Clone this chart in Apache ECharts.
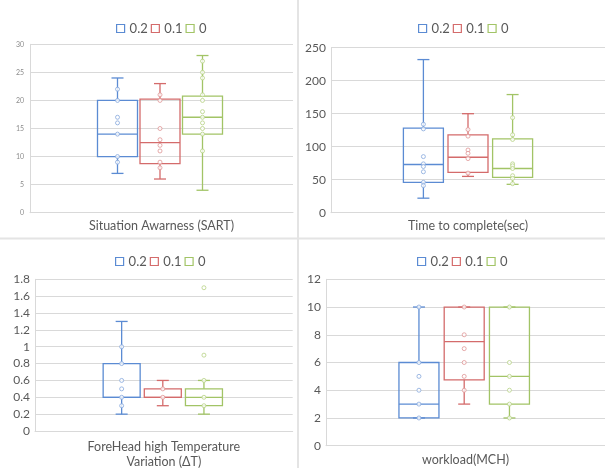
<!DOCTYPE html>
<html><head><meta charset="utf-8">
<script src="https://cdn.jsdelivr.net/npm/echarts@6/dist/echarts.min.js"></script>
<style>html,body{margin:0;padding:0;background:#fff}#c{width:605px;height:468px}</style>
</head><body><div id="c"></div>
<script>
// ---------- data ----------
const groups = ['0.2', '0.1', '0'];

// Situation Awareness (SART)
const sartTicks = [0, 5, 10, 15, 20, 25, 30];
const sartMin = [7, 6, 4];
const sartQ1 = [10, 8.75, 14];
const sartMedian = [14, 12.5, 17];
const sartQ3 = [20, 20.25, 20.75];
const sartMax = [24, 23, 28];
const sartPoints02 = [22, 20, 17, 16, 14, 10, 9];
const sartPoints01 = [21, 20, 15, 13, 12, 11, 9, 8];
const sartPoints0 = [27, 25, 24, 21, 20, 18, 17, 16, 15, 14, 11];

// Time to complete (sec)
const timeTicks = [0, 50, 100, 150, 200, 250];
const timeMin = [22, 55, 43];
const timeQ1 = [46, 61, 53.5];
const timeMedian = [73, 84, 67];
const timeQ3 = [128, 118, 112];
const timeMax = [232, 150, 179];
const timePoints02 = [134, 127, 85, 74, 70, 62, 46, 41];
const timePoints01 = [126, 116, 95, 90, 82, 60];
const timePoints0 = [144, 118, 111, 74, 71, 67, 56, 52, 44];

// ForeHead high Temperature Variation (ΔT)
const tempTicks = [0, 0.2, 0.4, 0.6, 0.8, 1, 1.2, 1.4, 1.6, 1.8];
const tempMin = [0.2, 0.3, 0.2];
const tempQ1 = [0.4, 0.4, 0.3];
const tempMedian = [0.4, 0.4, 0.4];
const tempQ3 = [0.8, 0.5, 0.5];
const tempMax = [1.3, 0.6, 0.6];
const tempPoints02 = [1.0, 0.8, 0.6, 0.5, 0.4, 0.3];
const tempPoints01 = [0.5, 0.4];
const tempPoints0 = [1.7, 0.9, 0.6, 0.4, 0.3];

// workload (MCH)
const workTicks = [0, 2, 4, 6, 8, 10, 12];
const workMin = [2, 3, 2];
const workQ1 = [2, 4.75, 3];
const workMedian = [3, 7.5, 5];
const workQ3 = [6, 10, 10];
const workMax = [10, 10, 10];
const workPoints02 = [10, 6, 5, 4, 3, 2];
const workPoints01 = [10, 8, 7, 6, 5, 4];
const workPoints0 = [10, 6, 5, 4, 3, 2];

// ---------- style / layout ----------
const FONT = 'Lato, "Open Sans", sans-serif';
const TEXT = '#595959';
const LINE = '#d9d9d9';
const COLORS = ['#5b8bd3', '#d46b6b', '#a2c466'];
const POINT_COLORS = ['#87a9dd', '#e09696', '#b7d285'];
const CAP = 12;

const panels = [
  { title: 'Situation Awarness (SART)', ticks: sartTicks, min: sartMin, q1: sartQ1, med: sartMedian, q3: sartQ3, max: sartMax,
    pts: [sartPoints02, sartPoints01, sartPoints0],
    lay: { left: 30, right: 293, top: 44.3, bottom: 212.7, center: 160, spacing: 42.5, boxW: 40, labelSize: 7, labelColor: '#8c8c8c', labelMargin: 6, nameGap: 6, legendLeft: 111, legendTop: 17 } },
  { title: 'Time to complete(sec)', ticks: timeTicks, min: timeMin, q1: timeQ1, med: timeMedian, q3: timeQ3, max: timeMax,
    pts: [timePoints02, timePoints01, timePoints0],
    lay: { left: 331, right: 605, top: 47.7, bottom: 212.7, center: 468, spacing: 44.6, boxW: 40, labelSize: 12, labelColor: TEXT, labelMargin: 5, nameGap: 6, legendLeft: 413, legendTop: 17 } },
  { title: 'ForeHead high Temperature\nVariation (ΔT)', ticks: tempTicks, min: tempMin, q1: tempQ1, med: tempMedian, q3: tempQ3, max: tempMax,
    pts: [tempPoints02, tempPoints01, tempPoints0],
    lay: { left: 35, right: 292.7, top: 279.3, bottom: 431, center: 162.8, spacing: 41.15, boxW: 37, labelSize: 12, labelColor: TEXT, labelMargin: 5, nameGap: 8, legendLeft: 110, legendTop: 250 } },
  { title: 'workload(MCH)', ticks: workTicks, min: workMin, q1: workQ1, med: workMedian, q3: workQ3, max: workMax,
    pts: [workPoints02, workPoints01, workPoints0],
    lay: { left: 326, right: 605, top: 279.3, bottom: 445.7, center: 464.2, spacing: 45.25, boxW: 40, labelSize: 12, labelColor: TEXT, labelMargin: 5, nameGap: 7, legendLeft: 412, legendTop: 250 } }
];

function makeBox(boxW, color) {
  return function (params, api) {
    const x = api.value(0);
    const pMin = api.coord([x, api.value(1)]);
    const pQ1 = api.coord([x, api.value(2)]);
    const pMed = api.coord([x, api.value(3)]);
    const pQ3 = api.coord([x, api.value(4)]);
    const pMax = api.coord([x, api.value(5)]);
    const cx = pMed[0], h = boxW / 2, ch = CAP / 2;
    const st = { stroke: color, lineWidth: 1.3, fill: null };
    return {
      type: 'group',
      children: [
        { type: 'rect', shape: { x: cx - h, y: pQ3[1], width: boxW, height: pQ1[1] - pQ3[1] }, style: { stroke: color, fill: 'none', lineWidth: 1.3 } },
        { type: 'line', shape: { x1: cx - h, y1: pMed[1], x2: cx + h, y2: pMed[1] }, style: st },
        { type: 'line', shape: { x1: cx, y1: pQ3[1], x2: cx, y2: pMax[1] }, style: st },
        { type: 'line', shape: { x1: cx, y1: pQ1[1], x2: cx, y2: pMin[1] }, style: st },
        { type: 'line', shape: { x1: cx - ch, y1: pMax[1], x2: cx + ch, y2: pMax[1] }, style: st },
        { type: 'line', shape: { x1: cx - ch, y1: pMin[1], x2: cx + ch, y2: pMin[1] }, style: st }
      ]
    };
  };
}

const grid = [], xAxis = [], yAxis = [], legend = [], series = [];
panels.forEach((p, i) => {
  const L = p.lay;
  grid.push({ left: L.left, top: L.top, width: L.right - L.left, height: L.bottom - L.top, containLabel: false, outerBoundsMode: 'none' });
  xAxis.push({
    gridIndex: i, type: 'value',
    min: 1 - (L.center - L.left) / L.spacing,
    max: 1 + (L.right - L.center) / L.spacing,
    axisLine: { show: true, onZero: false, lineStyle: { color: LINE, width: 1 } },
    axisTick: { show: false }, axisLabel: { show: false }, splitLine: { show: false },
    name: p.title, nameLocation: 'middle', nameGap: L.nameGap,
    nameTextStyle: { color: TEXT, fontSize: 12.5, fontFamily: FONT, lineHeight: 15.5, verticalAlign: 'top' }
  });
  yAxis.push({
    gridIndex: i, type: 'value',
    min: p.ticks[0], max: p.ticks[p.ticks.length - 1], interval: p.ticks[1] - p.ticks[0],
    axisLine: { show: true, onZero: false, lineStyle: { color: LINE, width: 1 } },
    axisTick: { show: false },
    axisLabel: { color: L.labelColor, fontSize: L.labelSize, fontFamily: FONT, margin: L.labelMargin },
    splitLine: { show: true, lineStyle: { color: LINE, width: 1 } }
  });
  legend.push({
    left: L.legendLeft, top: L.legendTop, icon: 'rect', itemWidth: 8, itemHeight: 8, itemGap: 3,
    selectedMode: false,
    textStyle: { color: TEXT, fontSize: 13, fontFamily: FONT },
    data: groups.map((g, k) => ({ name: g, itemStyle: { color: '#fff', borderColor: COLORS[k], borderWidth: 1.2 } }))
  });
  groups.forEach((g, k) => {
    series.push({
      type: 'custom', name: g, xAxisIndex: i, yAxisIndex: i, silent: true, z: 2,
      itemStyle: { color: COLORS[k] },
      data: [[k, p.min[k], p.q1[k], p.med[k], p.q3[k], p.max[k]]],
      renderItem: makeBox(L.boxW, COLORS[k])
    });
    series.push({
      type: 'scatter', name: g, xAxisIndex: i, yAxisIndex: i, silent: true, z: 3,
      symbol: 'circle', symbolSize: 4,
      itemStyle: { color: '#fff', borderColor: POINT_COLORS[k], borderWidth: 1 },
      data: p.pts[k].map(v => [k, v])
    });
  });
});

const chart = echarts.init(document.getElementById('c'), null, { renderer: 'canvas' });
chart.setOption({
  animation: false,
  backgroundColor: '#fff',
  textStyle: { fontFamily: FONT },
  grid, xAxis, yAxis, legend, series,
  graphic: [
    { type: 'line', silent: true, shape: { x1: 298, y1: 0, x2: 298, y2: 468 }, style: { stroke: '#e4e4e4', lineWidth: 2 } },
    { type: 'line', silent: true, shape: { x1: 0, y1: 238.5, x2: 605, y2: 238.5 }, style: { stroke: '#e4e4e4', lineWidth: 2 } }
  ]
});
</script></body></html>
